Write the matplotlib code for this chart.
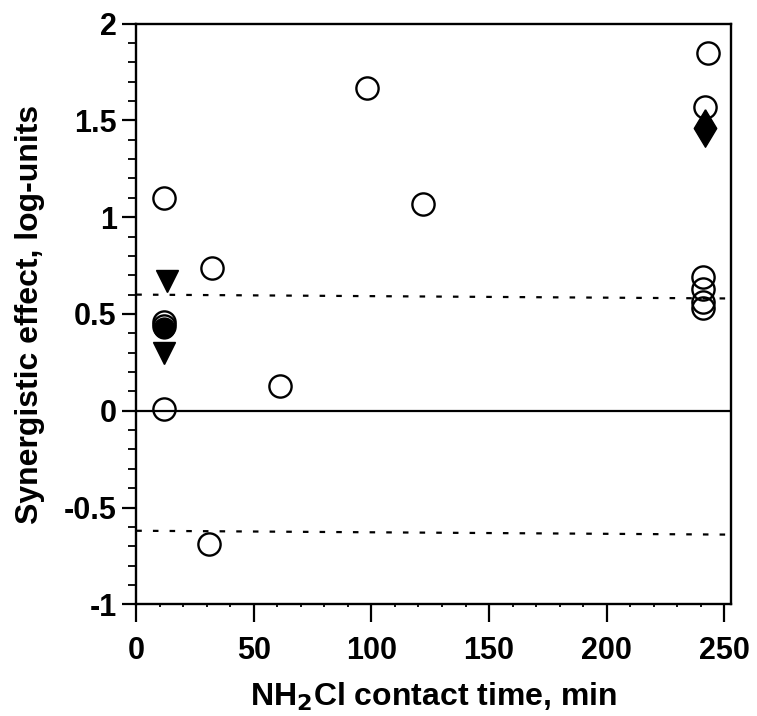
import numpy as np
import matplotlib.pyplot as plt
from matplotlib.ticker import MultipleLocator

# open circles
open_x = [12, 12, 12, 12, 32, 31, 61, 98, 122, 243, 242, 241, 241, 241, 241]
open_y = [1.10, 0.46, 0.44, 0.01, 0.74, -0.69, 0.13, 1.67, 1.07, 1.85, 1.57, 0.69, 0.63, 0.56, 0.53]

# filled markers
tri_x = [13, 12]
tri_y = [0.67, 0.30]
dot_x = [12]
dot_y = [0.43]
dia_x = [242]
dia_y = [1.46]

# reference lines (slightly skewed in the original)
line_x = [0, 253]
upper_y = [0.60, 0.58]
lower_y = [-0.62, -0.64]

plt.rcParams['font.family'] = ['Liberation Sans', 'DejaVu Sans']
plt.rcParams['font.weight'] = 'bold'

fig = plt.figure(figsize=(7.57, 7.16), dpi=100)
ax = fig.add_axes([0.180, 0.156, 0.786, 0.811])

ax.axhline(0, color='black', lw=1.6, zorder=1)
ax.plot(line_x, upper_y, color='black', lw=1.6, ls=(0, (2.5, 5)), zorder=1)
ax.plot(line_x, lower_y, color='black', lw=1.6, ls=(0, (2.5, 5)), zorder=1)

tall_diamond = [(0, 1), (0.6, 0), (0, -1), (-0.6, 0), (0, 1)]
ax.plot(tri_x, tri_y, 'v', color='black', ms=16, zorder=3)
ax.plot(dot_x, dot_y, 'o', color='black', ms=15, zorder=3)
ax.plot(dia_x, dia_y, marker=tall_diamond, ls='none', color='black', ms=27, zorder=3)
ax.plot(open_x, open_y, 'o', mfc='none', mec='black', mew=1.7, ms=16, zorder=4)

ax.set_xlim(0, 253)
ax.set_ylim(-1, 2)
ax.xaxis.set_major_locator(MultipleLocator(50))
ax.xaxis.set_minor_locator(MultipleLocator(10))
ax.yaxis.set_minor_locator(MultipleLocator(0.1))
ax.set_yticks([-1, -0.5, 0, 0.5, 1, 1.5, 2])
ax.set_yticklabels(['-1', '-0.5', '0', '0.5', '1', '1.5', '2'])

ax.tick_params(which='major', direction='out', width=1.6, labelsize=22)
ax.tick_params(axis='x', which='major', length=13, pad=9.5)
ax.tick_params(axis='y', which='major', length=10, pad=4)
ax.tick_params(axis='y', which='minor', direction='out', length=6, width=1.3)
ax.tick_params(axis='x', which='minor', direction='out', length=2, width=1.3, pad=8)
ax.tick_params(top=False, right=False, which='both')
for s in ax.spines.values():
    s.set_linewidth(1.7)

ax.set_xlabel('NH$_\\mathbf{2}$Cl contact time, min', fontsize=23, fontweight='bold', labelpad=10.5)
ax.set_ylabel('Synergistic effect, log-units', fontsize=23, fontweight='bold', labelpad=13.5)

fig.savefig('out.png', dpi=100)
